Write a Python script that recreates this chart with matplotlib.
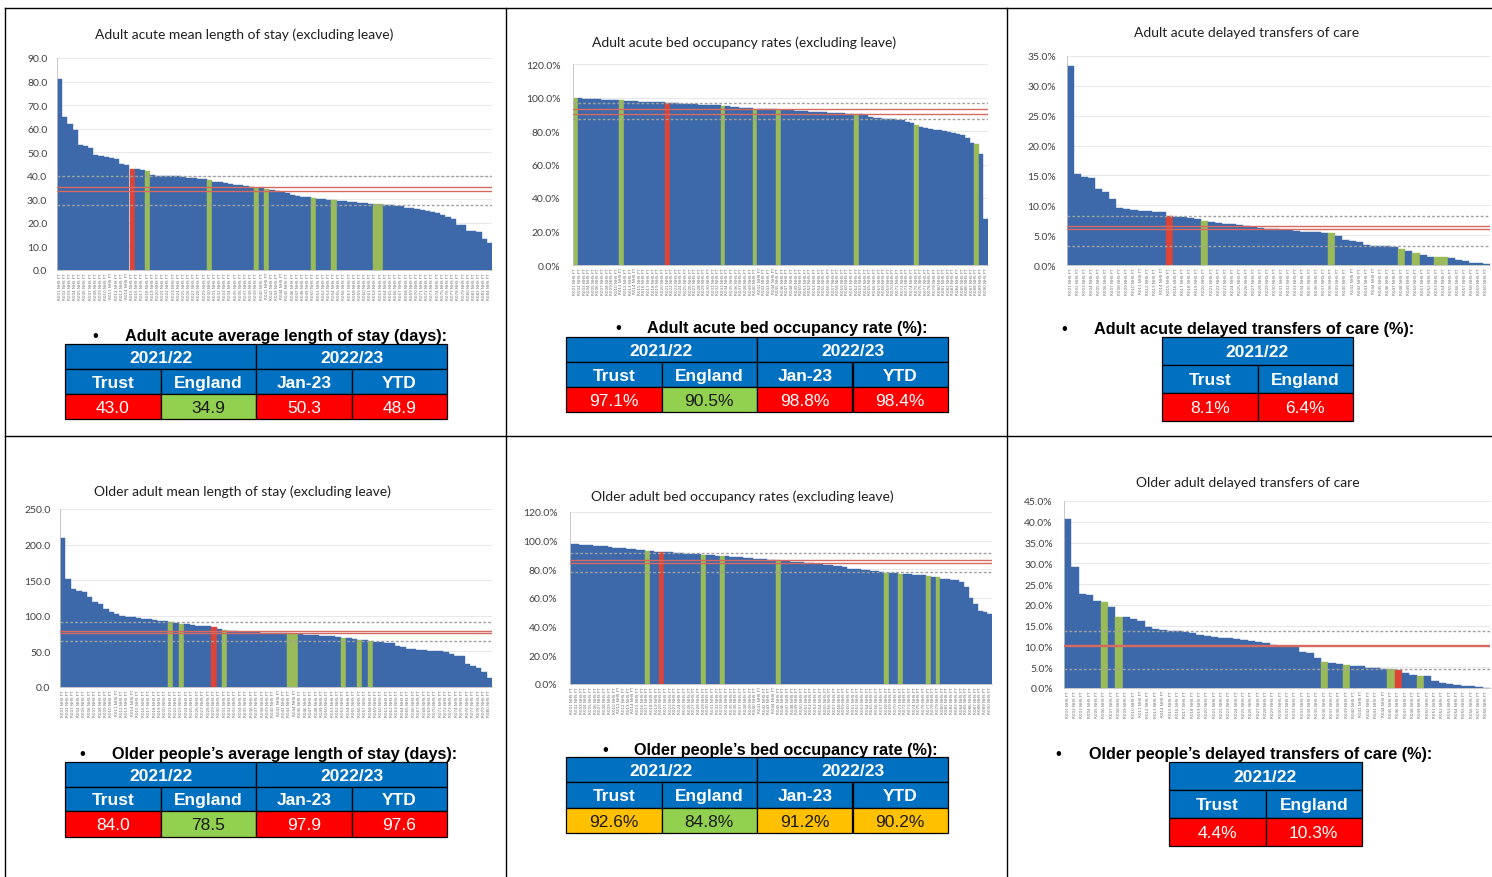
import numpy as np
import matplotlib
matplotlib.use("Agg")
import matplotlib.pyplot as plt
from matplotlib.patches import Rectangle
from matplotlib.lines import Line2D
from matplotlib.ticker import FuncFormatter

W, H = 1492, 878

# ---------------- data ----------------
adult_los = [81, 65, 62, 59.5, 53, 52.5, 52, 49, 48.5, 48,
             47.5, 47, 45, 44.5, 43, 43, 42.5, 42, 40.5, 40,
             40, 40, 40, 39.8, 39.5, 39.2, 39, 38.8, 38.5, 38,
             37.5, 37.2, 37, 36.5, 36.2, 36, 35.5, 35.2, 34.8, 34.6,
             34.5, 34, 33.5, 33, 32.5, 32, 31.5, 31.2, 31, 30.5,
             30.2, 30, 29.8, 29.7, 29.5, 29.3, 29, 28.8, 28.5, 28.3,
             28.1, 28, 28, 27.8, 27.5, 27.3, 27, 26.5, 26.2, 25.8,
             25.5, 25, 24.5, 24.2, 23.5, 22.5, 21.5, 19, 19, 16.5,
             16.5, 16.3, 13, 11.5]
adult_los_trust = 14
adult_los_peers = [17, 29, 38, 40, 49, 53, 61, 62]
adult_los_dashed = [40.0, 27.7]
adult_los_lines = [35.1, 33.5]

adult_occ = [100, 99.5, 99.3, 99.2, 99.0, 98.9, 98.8, 98.7, 98.6, 98.5,
             98.4, 98.2, 98, 97.8, 97.6, 97.5, 97.3, 97.2, 97.1, 97.1,
             97.0, 96.8, 96.6, 96.4, 96.2, 96, 95.9, 95.8, 95.7, 95.6,
             95.5, 95.3, 95.0, 94.8, 94.5, 94.2, 94, 93.8, 93.6, 93.4,
             93.2, 93.1, 93, 92.9, 92.8, 92.6, 92.5, 92.3, 92.2, 92,
             91.8, 91.6, 91.4, 91.3, 91.1, 91, 90.8, 90.6, 90.5, 90.4,
             90.3, 90.1, 90, 89.8, 88.5, 87.8, 87.5, 87.3, 87.1, 87,
             86.8, 86.5, 85.5, 84.5, 83.5, 82.5, 81.8, 81.2, 80.8, 80.5,
             80, 79.5, 79, 78.3, 77.5, 76, 73, 72, 66.5, 27.5]
adult_occ_trust = 20
adult_occ_peers = [0, 10, 32, 39, 44, 61, 74, 87]
adult_occ_dashed = [96.9, 87.2]
adult_occ_lines = [93.0, 90.1]

adult_dtoc = [33.3, 15.2, 14.7, 14.6, 12.7, 12.2, 11.1, 9.5, 9.4, 9.2,
              9.1, 9.0, 8.9, 8.8, 8.2, 8.1, 8.0, 7.9, 7.7, 7.4,
              7.2, 7.1, 6.9, 6.8, 6.7, 6.6, 6.4, 6.2, 6.1, 6.0,
              5.9, 5.8, 5.7, 5.6, 5.5, 5.5, 5.4, 5.4, 4.9, 4.2,
              4.0, 3.8, 3.4, 3.2, 3.1, 3.1, 3.0, 2.7, 2.4, 2.0,
              1.6, 1.4, 1.4, 1.3, 1.1, 0.9, 0.6, 0.4, 0.3, 0.1]
adult_dtoc_trust = 14
adult_dtoc_peers = [19, 37, 47, 49, 52, 53]
adult_dtoc_dashed = [8.2, 3.1]
adult_dtoc_lines = [6.5, 6.0]

older_los = [209, 151, 137, 135, 133, 127, 120, 116, 110, 106,
             103, 100, 99, 98, 97, 96, 95, 94, 93, 92,
             91, 90, 89, 88, 87, 86, 85.5, 85, 84, 82,
             80, 78.5, 78, 77.5, 77.2, 77, 76.8, 76.5, 76.3, 76,
             75.8, 75.5, 75.3, 75, 74, 73.5, 73, 72.5, 72, 71.5,
             71, 70.5, 69.5, 68.5, 67.5, 66.5, 65.5, 64.5, 63.5, 63,
             62.5, 61.5, 58, 56, 54, 53, 52, 51.5, 51, 50.5,
             50, 49, 47, 44, 44, 33, 30, 26, 21, 13]
older_los_trust = 28
older_los_peers = [20, 22, 30, 42, 43, 52, 55, 57]
older_los_dashed = [91.0, 64.0]
older_los_lines = [78.5, 76.0]

older_occ = [98, 97.5, 97.2, 97, 96.8, 96.5, 96.2, 96, 95.6, 95.2,
             94.9, 94.6, 94.3, 94, 93.6, 93.2, 92.8, 92.6, 92.4, 92.2,
             92, 91.8, 91.6, 91.3, 91, 90.8, 90.6, 90.4, 90.2, 90,
             89.8, 89.6, 89.3, 89, 88.8, 88.6, 88.3, 88, 87.7, 87.4,
             87.1, 86.9, 86.7, 86.5, 86.2, 86, 85.7, 85.4, 85.1, 84.8,
             84.5, 84.3, 84, 83.7, 83.3, 83, 82.6, 82.2, 81.5, 80.5,
             80.2, 80, 79.8, 79.5, 79, 78.5, 78, 77.6, 77.4, 77.2,
             77, 76.8, 76.5, 76.2, 76, 75.7, 75.3, 75, 74.6, 73.5,
             73, 72.8, 72.6, 71, 68, 60, 56, 51, 50, 48.5]
older_occ_trust = 19
older_occ_peers = [16, 28, 32, 44, 67, 70, 76, 78]
older_occ_dashed = [91.6, 78.1]
older_occ_lines = [86.7, 84.4]

older_dtoc = [40.6, 29.1, 22.7, 22.3, 20.9, 20.7, 19.5, 17.1, 17.0, 16.6,
              16.2, 14.6, 14.2, 14.0, 13.8, 13.7, 13.5, 13.3, 12.7, 12.4,
              12.2, 12.1, 12.0, 11.9, 11.5, 11.3, 11.0, 10.9, 10.3, 10.2,
              10.1, 10.0, 8.6, 8.5, 7.2, 6.3, 6.1, 5.7, 5.5, 5.4,
              5.2, 4.9, 4.7, 4.6, 4.5, 4.4, 3.5, 3.1, 2.9, 2.8,
              1.7, 1.2, 0.9, 0.7, 0.6, 0.5, 0.3, 0.1]
older_dtoc_trust = 45
older_dtoc_peers = [5, 7, 35, 38, 44, 48]
older_dtoc_dashed = [13.7, 4.6]
older_dtoc_lines = [10.4, 10.1]

# summary tables
years_4 = ["2021/22", "2022/23"]
years_2 = ["2021/22"]
cols_4 = ["Trust", "England", "Jan-23", "YTD"]
cols_2 = ["Trust", "England"]

adult_los_vals = ["43.0", "34.9", "50.3", "48.9"]
adult_los_rag = ["red", "green", "red", "red"]
adult_occ_vals = ["97.1%", "90.5%", "98.8%", "98.4%"]
adult_occ_rag = ["red", "green", "red", "red"]
adult_dtoc_vals = ["8.1%", "6.4%"]
adult_dtoc_rag = ["red", "red"]
older_los_vals = ["84.0", "78.5", "97.9", "97.6"]
older_los_rag = ["red", "green", "red", "red"]
older_occ_vals = ["92.6%", "84.8%", "91.2%", "90.2%"]
older_occ_rag = ["amber", "green", "amber", "amber"]
older_dtoc_vals = ["4.4%", "10.3%"]
older_dtoc_rag = ["red", "red"]

# ---------------- styling ----------------
BLUE_BAR = "#3D69AB"
GREEN_BAR = "#9BBB59"
RED_BAR = "#DB4437"
REFLINE = "#D66A60"
DASH = "#A0A0A0"
HEAD = "#0070C0"
RAG = {"red": "#FF0000", "green": "#92D050", "amber": "#FFC000"}
RAG_TXT = {"red": "white", "green": "#1a1a1a", "amber": "#1a1a1a"}
TITLE_FONT = ["Lato", "DejaVu Sans"]
TABLE_FONT = ["Liberation Sans", "DejaVu Sans"]

fig = plt.figure(figsize=(W / 100, H / 100), dpi=100)
fig.patch.set_facecolor("white")


def fx(x):
    return x / W


def fy(y):
    return 1 - y / H


def num_fmt(v, p):
    return f"{v:.1f}"


def pct_fmt(v, p):
    return f"{v:.1f}%"


def bar_panel(box, title, title_xy, values, trust, peers, dashed, lines, ymax, step, fmt, pad=7):
    x0, y0, x1, y1 = box
    ax = fig.add_axes([fx(x0), fy(y1), (x1 - x0) / W, (y1 - y0) / H])
    n = len(values)
    colors = [BLUE_BAR] * n
    for i in peers:
        colors[i] = GREEN_BAR
    colors[trust] = RED_BAR
    xs = np.arange(n)
    ax.bar(xs, values, width=1.0, color=colors, edgecolor=colors, linewidth=0.3, zorder=2)
    for d in dashed:
        ax.axhline(d, color=DASH, lw=1.0, ls=(0, (2, 1.5)), zorder=3)
    for r in lines:
        ax.axhline(r, color=REFLINE, lw=1.0, zorder=3)
    ax.set_xlim(-0.5, n - 0.5)
    ax.set_ylim(0, ymax)
    ax.set_yticks(np.arange(0, ymax + step / 2, step))
    ax.yaxis.set_major_formatter(FuncFormatter(fmt))
    ax.grid(axis="y", color="#E4E4E4", lw=0.6, zorder=0)
    ax.set_axisbelow(True)
    # provider names are unreadable in the source; placeholder codes
    codes = [f"R{k + 1:03d} NHS FT" for k in range(n)]
    ax.set_xticks(xs)
    ax.set_xticklabels(codes, rotation=90, fontsize=3.0, color="#6E6E6E")
    ax.tick_params(axis="x", length=0, pad=1.5)
    ax.tick_params(axis="y", length=0, labelsize=7.5, labelcolor="#404040", pad=pad)
    for lab in ax.get_yticklabels():
        lab.set_family(TITLE_FONT)
    for s in ["top", "right"]:
        ax.spines[s].set_visible(False)
    ax.spines["left"].set_color("#BFBFBF")
    ax.spines["bottom"].set_color("#BFBFBF")
    ax.spines["left"].set_linewidth(0.6)
    ax.spines["bottom"].set_linewidth(0.6)
    fig.text(fx(title_xy[0]), fy(title_xy[1]), title, ha="center", va="center",
             fontsize=10, color="#1F1F1F", family=TITLE_FONT)
    return ax


def cell(x, y, w, h, face, txt, tcolor, bold):
    fig.add_artist(Rectangle((fx(x), fy(y + h)), w / W, h / H, transform=fig.transFigure,
                             facecolor=face, edgecolor="black", lw=0.9))
    fig.text(fx(x + w / 2), fy(y + h / 2 + 1), txt, ha="center", va="center", color=tcolor,
             fontsize=12.5, fontweight="bold" if bold else "normal", family=TABLE_FONT)


def summary(bullet_xy, text_x, heading, x0, x1, rows, years, cols, vals, rag):
    fig.text(fx(bullet_xy[0]), fy(bullet_xy[1]), "\u2022", ha="center", va="center",
             fontsize=12, family=TABLE_FONT)
    fig.text(fx(text_x), fy(bullet_xy[1]), heading, ha="left", va="center",
             fontsize=11.7, fontweight="bold", family=TABLE_FONT, color="black")
    n = len(cols)
    cw = (x1 - x0) / n
    span = n // len(years)
    for k, yr in enumerate(years):
        cell(x0 + k * span * cw, rows[0], span * cw, rows[1] - rows[0], HEAD, yr, "white", True)
    for j, c in enumerate(cols):
        cell(x0 + j * cw, rows[1], cw, rows[2] - rows[1], HEAD, c, "white", True)
    for j, (v, r) in enumerate(zip(vals, rag)):
        cell(x0 + j * cw, rows[2], cw, rows[3] - rows[2], RAG[r], v, RAG_TXT[r], False)


# ---------------- charts ----------------
bar_panel((57, 59, 492, 271), "Adult acute mean length of stay (excluding leave)", (244, 35),
          adult_los, adult_los_trust, adult_los_peers, adult_los_dashed, adult_los_lines,
          90, 10, num_fmt)
bar_panel((573, 65, 988, 266), "Adult acute bed occupancy rates (excluding leave)", (744, 43),
          adult_occ, adult_occ_trust, adult_occ_peers, adult_occ_dashed, adult_occ_lines,
          120, 20, pct_fmt, pad=9)
bar_panel((1067, 57, 1490, 266), "Adult acute delayed transfers of care", (1247, 33),
          adult_dtoc, adult_dtoc_trust, adult_dtoc_peers, adult_dtoc_dashed, adult_dtoc_lines,
          35, 5, pct_fmt, pad=8)
bar_panel((60, 510, 492, 688), "Older adult mean length of stay (excluding leave)", (242, 492),
          older_los, older_los_trust, older_los_peers, older_los_dashed, older_los_lines,
          250, 50, num_fmt)
bar_panel((570, 513, 992, 685), "Older adult bed occupancy rates (excluding leave)", (742, 497),
          older_occ, older_occ_trust, older_occ_peers, older_occ_dashed, older_occ_lines,
          120, 20, pct_fmt, pad=9)
bar_panel((1064, 502, 1490, 689), "Older adult delayed transfers of care", (1248, 483),
          older_dtoc, older_dtoc_trust, older_dtoc_peers, older_dtoc_dashed, older_dtoc_lines,
          45, 5, pct_fmt, pad=8)

# ---------------- tables ----------------
summary((95, 337), 125, "Adult acute average length of stay (days):", 65, 447,
        [345, 370, 395, 420], years_4, cols_4, adult_los_vals, adult_los_rag)
summary((618, 329), 647, "Adult acute bed occupancy rate (%):", 566, 948,
        [338, 363, 388, 413], years_4, cols_4, adult_occ_vals, adult_occ_rag)
summary((1064, 330), 1094, "Adult acute delayed transfers of care (%):", 1162, 1353,
        [338, 366, 394, 422], years_2, cols_2, adult_dtoc_vals, adult_dtoc_rag)
summary((82, 755), 112, "Older people\u2019s average length of stay (days):", 65, 447,
        [763, 788, 812, 838], years_4, cols_4, older_los_vals, older_los_rag)
summary((605, 751), 634, "Older people\u2019s bed occupancy rate (%):", 566, 948,
        [758, 783, 809, 834], years_4, cols_4, older_occ_vals, older_occ_rag)
summary((1058, 755), 1089, "Older people\u2019s delayed transfers of care (%):", 1169, 1362,
        [763, 791, 819, 847], years_2, cols_2, older_dtoc_vals, older_dtoc_rag)

# ---------------- page grid ----------------
grid_lines = [
    ((5, 5), (9, 878)),
    ((506, 506), (9, 878)),
    ((1007, 1007), (9, 878)),
    ((5, 1492), (9, 9)),
    ((5, 1492), (437, 437)),
]
for (xa, xb), (ya, yb) in grid_lines:
    fig.add_artist(Line2D([fx(xa), fx(xb)], [fy(ya), fy(yb)], transform=fig.transFigure,
                          color="black", lw=1.0))

fig.savefig("out.png", dpi=100)
